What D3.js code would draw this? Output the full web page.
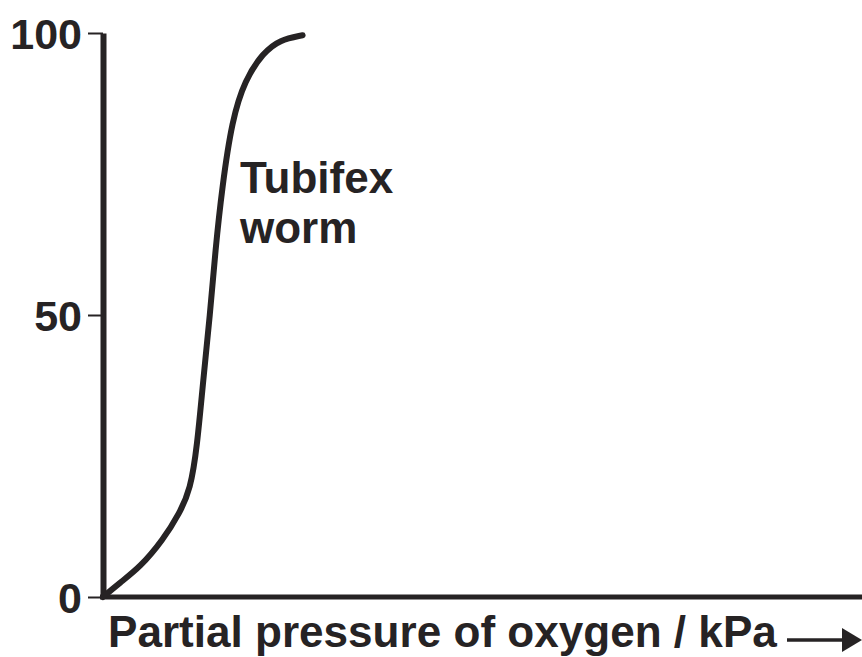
<!DOCTYPE html>
<html>
<head>
<meta charset="utf-8">
<script src="https://cdn.jsdelivr.net/npm/d3@7"></script>
<style>
	body { margin: 0; background: #fff; }
	svg text { font-family: "Liberation Sans", Arial, sans-serif; font-weight: bold; fill: #262324; }
</style>
</head>
<body>
<svg id="chart" width="862" height="657"></svg>
<script>
// curve: partial pressure (kPa, arbitrary scale) vs % saturation
const pressure = [0, 0.22, 0.49, 0.79, 1.01, 1.15, 1.24, 1.32, 1.41, 1.48, 1.57, 1.70, 1.87, 2.11, 2.33, 2.63];
const saturation = [0, 2.5, 5.3, 10.1, 14.9, 19.0, 26.6, 38.5, 50, 61.5, 72.7, 84.6, 91.7, 96.5, 98.8, 99.6];
const yTicks = [0, 50, 100];
const curveLabel = ["Tubifex", "worm"];
const xTitle = "Partial pressure of oxygen / kPa";

const ink = "#262324";
const svg = d3.select("#chart");

const x = d3.scaleLinear().domain([0, 10]).range([103, 862]);
const y = d3.scaleLinear().domain([0, 100]).range([597, 33]);

// y axis
const yAxis = svg.append("g")
	.attr("transform", "translate(" + x(0) + ",0)")
	.call(d3.axisLeft(y).tickValues(yTicks).tickSize(15).tickSizeOuter(0).tickPadding(6));
yAxis.select(".domain").attr("stroke", ink).attr("stroke-width", 6);
yAxis.selectAll(".tick line").attr("stroke", ink).attr("stroke-width", 2);
yAxis.selectAll(".tick text")
	.attr("font-size", 43)
	.attr("dy", "0.36em")
	.style("font-family", "'Liberation Sans', Arial, sans-serif")
	.attr("fill", ink);

// x axis (no ticks)
const xAxis = svg.append("g")
	.attr("transform", "translate(0," + y(0) + ")")
	.call(d3.axisBottom(x).tickValues([]).tickSizeOuter(0));
xAxis.select(".domain").attr("stroke", ink).attr("stroke-width", 5)
	.attr("d", "M" + (x(0) - 3) + ",0H862");

// curve
const points = pressure.map((p, i) => [p, saturation[i]]);
const line = d3.line()
	.x(d => x(d[0]))
	.y(d => y(d[1]))
	.curve(d3.curveBasis);

svg.append("path")
	.datum(points)
	.attr("d", line)
	.attr("fill", "none")
	.attr("stroke", ink)
	.attr("stroke-width", 6)
	.attr("stroke-linecap", "round");

// curve label
svg.append("text")
	.attr("x", 240)
	.attr("y", 193)
	.attr("font-size", 44)
	.selectAll("tspan")
	.data(curveLabel)
	.join("tspan")
	.attr("x", 240)
	.attr("dy", (d, i) => i === 0 ? 0 : 50)
	.text(d => d);

// x title, fitted to the span in the picture
const title = svg.append("text")
	.attr("x", 108)
	.attr("y", 647)
	.attr("font-size", 40)
	.text(xTitle);
const w = title.node().getComputedTextLength();
title.attr("font-size", 40 * 669 / w);

// arrow
svg.append("line")
	.attr("x1", 787).attr("y1", 640)
	.attr("x2", 846).attr("y2", 640)
	.attr("stroke", ink).attr("stroke-width", 3.5);
svg.append("path")
	.attr("d", "M842,628L862,640L842,652Z")
	.attr("fill", ink);
</script>
</body>
</html>
